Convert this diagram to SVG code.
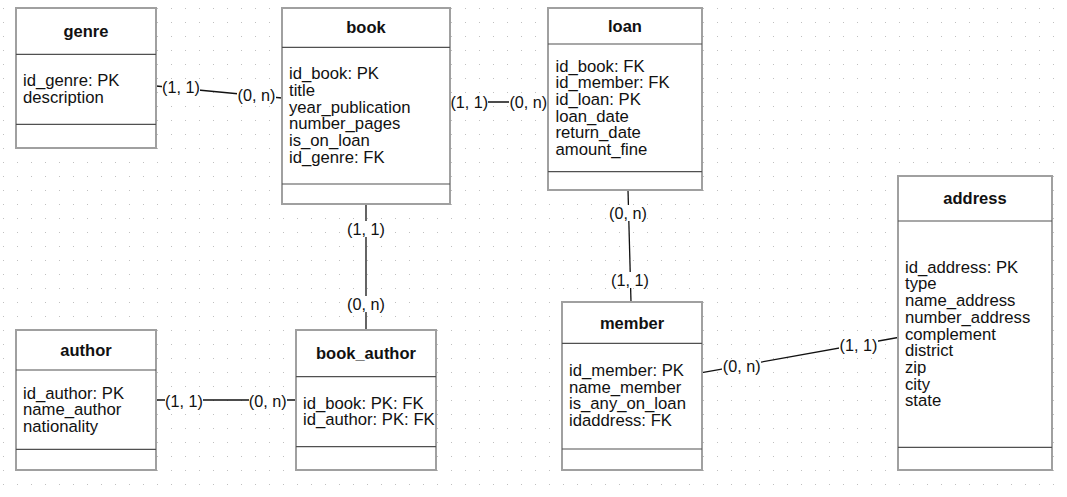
<svg xmlns="http://www.w3.org/2000/svg" width="1067" height="497" viewBox="0 0 1067 497">
<style>
.box{fill:#fff;stroke:#a0a0a0;stroke-width:2}
.div{stroke:#505050;stroke-width:1.2;fill:none}
.title{font-family:"Liberation Sans",Arial,sans-serif;font-size:16.5px;font-weight:bold;fill:#111;text-anchor:middle}
.attr{font-family:"Liberation Sans",Arial,sans-serif;font-size:16.7px;fill:#111}
.lbl{font-family:"Liberation Sans",Arial,sans-serif;font-size:16.2px;fill:#111;text-anchor:middle}
.edge{stroke:#111;stroke-width:1.3;fill:none}
.lblbg{fill:#fff}
</style>
<defs>
<pattern id="grid" x="0" y="0" width="14" height="14" patternUnits="userSpaceOnUse">
<rect x="3" y="8" width="1" height="1" fill="#c0c0c0"/>
</pattern>
</defs>
<rect x="0" y="0" width="1067" height="497" fill="#fff"/>
<rect x="0" y="0" width="1067" height="497" fill="url(#grid)"/>

<g id="connectors">
<g id="genre-book">
<line class="edge" x1="156" y1="86" x2="282" y2="98"/>
<rect class="lblbg" x="162" y="80" width="38" height="16"/>
<text class="lbl" x="181" y="93">(1, 1)</text>
<rect class="lblbg" x="237" y="88" width="39" height="16"/>
<text class="lbl" x="256.5" y="101">(0, n)</text>
</g>
<g id="book-loan">
<line class="edge" x1="450" y1="102" x2="548" y2="102"/>
<rect class="lblbg" x="450" y="95" width="38" height="16"/>
<text class="lbl" x="469.3" y="108">(1, 1)</text>
<rect class="lblbg" x="509" y="95" width="38" height="16"/>
<text class="lbl" x="528.3" y="108">(0, n)</text>
</g>
<g id="book-book_author">
<line class="edge" x1="366" y1="204" x2="366" y2="330"/>
<rect class="lblbg" x="347" y="221" width="38" height="16"/>
<text class="lbl" x="366" y="234.5">(1, 1)</text>
<rect class="lblbg" x="347" y="296" width="38" height="16"/>
<text class="lbl" x="366" y="309.5">(0, n)</text>
</g>
<g id="author-book_author">
<line class="edge" x1="156" y1="400" x2="296" y2="400"/>
<rect class="lblbg" x="165" y="393" width="38" height="16"/>
<text class="lbl" x="184" y="406.5">(1, 1)</text>
<rect class="lblbg" x="249" y="393" width="38" height="16"/>
<text class="lbl" x="267.7" y="406.5">(0, n)</text>
</g>
<g id="loan-member">
<line class="edge" x1="628" y1="190" x2="631" y2="302"/>
<rect class="lblbg" x="609" y="205" width="38" height="16"/>
<text class="lbl" x="628" y="218.5">(0, n)</text>
<rect class="lblbg" x="611" y="272" width="38" height="16"/>
<text class="lbl" x="630" y="285.5">(1, 1)</text>
</g>
<g id="member-address">
<line class="edge" x1="702" y1="372.7" x2="898" y2="337.5"/>
<rect class="lblbg" x="722" y="359" width="39" height="16"/>
<text class="lbl" x="741.7" y="372">(0, n)</text>
<rect class="lblbg" x="839" y="337" width="39" height="16"/>
<text class="lbl" x="858.5" y="350.5">(1, 1)</text>
</g>
</g>

<g id="genre">
<rect class="box" x="16" y="8" width="140" height="140"/>
<line class="div" x1="16" y1="54.3" x2="156" y2="54.3"/>
<line class="div" x1="16" y1="124.3" x2="156" y2="124.3"/>
<text class="title" x="86" y="37">genre</text>
<text class="attr" x="23" y="86">id_genre: PK</text>
<text class="attr" x="23" y="103">description</text>
</g>

<g id="book">
<rect class="box" x="282" y="8" width="168" height="196"/>
<line class="div" x1="282" y1="47.3" x2="450" y2="47.3"/>
<line class="div" x1="282" y1="184" x2="450" y2="184"/>
<text class="title" x="366" y="33">book</text>
<text class="attr" x="289" y="79">id_book: PK</text>
<text class="attr" x="289" y="95.8">title</text>
<text class="attr" x="289" y="112.6">year_publication</text>
<text class="attr" x="289" y="129.4">number_pages</text>
<text class="attr" x="289" y="146.2">is_on_loan</text>
<text class="attr" x="289" y="163">id_genre: FK</text>
</g>

<g id="loan">
<rect class="box" x="548" y="8" width="154" height="182"/>
<line class="div" x1="548" y1="44" x2="702" y2="44"/>
<line class="div" x1="548" y1="171.7" x2="702" y2="171.7"/>
<text class="title" x="625" y="32">loan</text>
<text class="attr" x="555.5" y="71.5">id_book: FK</text>
<text class="attr" x="555.5" y="88.2">id_member: FK</text>
<text class="attr" x="555.5" y="104.9">id_loan: PK</text>
<text class="attr" x="555.5" y="121.6">loan_date</text>
<text class="attr" x="555.5" y="138.3">return_date</text>
<text class="attr" x="555.5" y="155">amount_fine</text>
</g>

<g id="member">
<rect class="box" x="562" y="302" width="140" height="168"/>
<line class="div" x1="562" y1="343.3" x2="702" y2="343.3"/>
<line class="div" x1="562" y1="449" x2="702" y2="449"/>
<text class="title" x="632" y="328.5">member</text>
<text class="attr" x="569" y="376">id_member: PK</text>
<text class="attr" x="569" y="392.7">name_member</text>
<text class="attr" x="569" y="409.4">is_any_on_loan</text>
<text class="attr" x="569" y="426.1">idaddress: FK</text>
</g>

<g id="address">
<rect class="box" x="898" y="176" width="154" height="294"/>
<line class="div" x1="898" y1="221" x2="1052" y2="221"/>
<line class="div" x1="898" y1="447.3" x2="1052" y2="447.3"/>
<text class="title" x="975" y="204">address</text>
<text class="attr" x="905" y="272.7">id_address: PK</text>
<text class="attr" x="905" y="289.4">type</text>
<text class="attr" x="905" y="306.1">name_address</text>
<text class="attr" x="905" y="322.8">number_address</text>
<text class="attr" x="905" y="339.5">complement</text>
<text class="attr" x="905" y="356.2">district</text>
<text class="attr" x="905" y="372.9">zip</text>
<text class="attr" x="905" y="389.6">city</text>
<text class="attr" x="905" y="406.3">state</text>
</g>

<g id="author">
<rect class="box" x="16" y="330" width="140" height="140"/>
<line class="div" x1="16" y1="370" x2="156" y2="370"/>
<line class="div" x1="16" y1="449.3" x2="156" y2="449.3"/>
<text class="title" x="86" y="356">author</text>
<text class="attr" x="23" y="398.7">id_author: PK</text>
<text class="attr" x="23" y="415.4">name_author</text>
<text class="attr" x="23" y="432.1">nationality</text>
</g>

<g id="book_author">
<rect class="box" x="296" y="330" width="140" height="140"/>
<line class="div" x1="296" y1="376.7" x2="436" y2="376.7"/>
<line class="div" x1="296" y1="446.7" x2="436" y2="446.7"/>
<text class="title" x="366" y="359">book_author</text>
<text class="attr" x="303" y="408.7">id_book: PK: FK</text>
<text class="attr" x="303" y="425.4">id_author: PK: FK</text>
</g>
</svg>
